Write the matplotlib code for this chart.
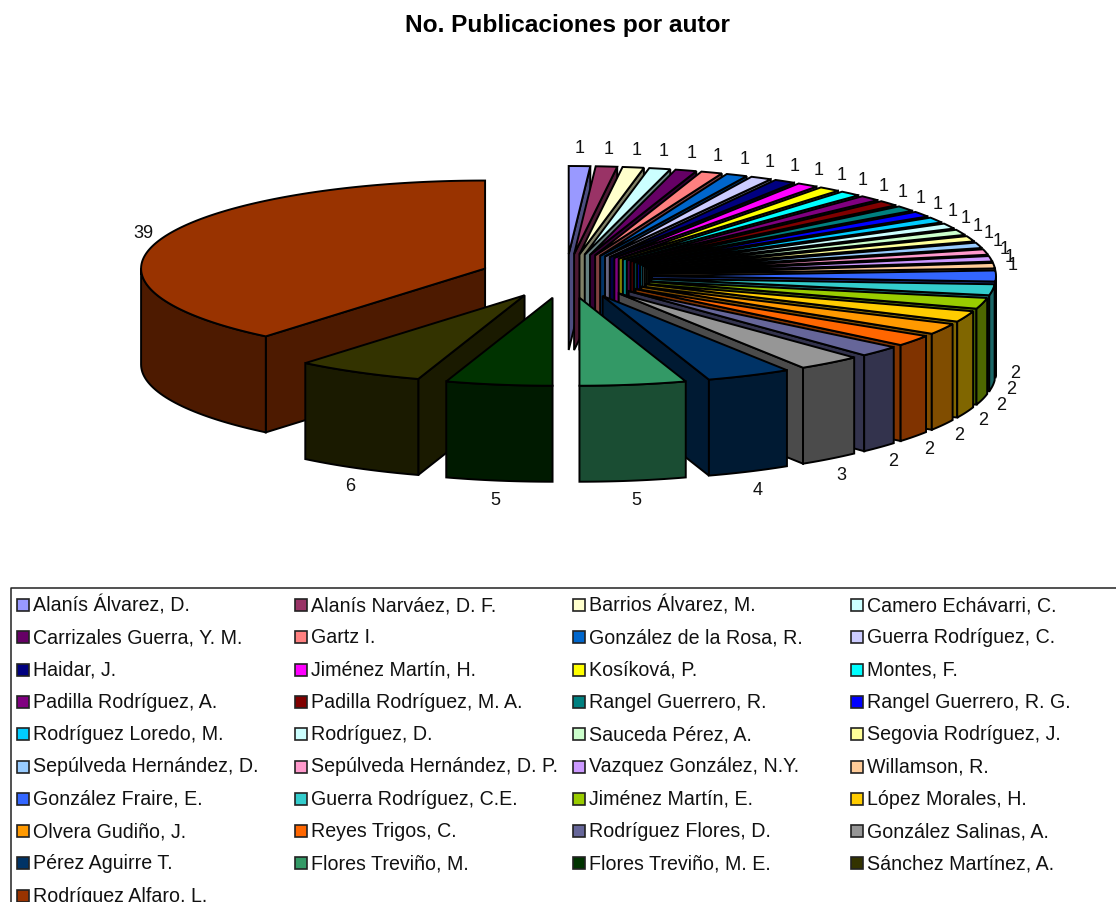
import numpy as np
import matplotlib
matplotlib.use('Agg')
import matplotlib.pyplot as plt
from matplotlib.patches import Polygon, Rectangle

plt.rcParams['font.family'] = ['Liberation Sans', 'DejaVu Sans']

autores = ['Alanís Álvarez, D.', 'Alanís Narváez, D. F.', 'Barrios Álvarez, M.', 'Camero Echávarri, C.',
           'Carrizales Guerra, Y. M.', 'Gartz I.', 'González de la Rosa, R.', 'Guerra Rodríguez, C.',
           'Haidar, J.', 'Jiménez Martín, H.', 'Kosíková, P.', 'Montes, F.',
           'Padilla Rodríguez, A.', 'Padilla Rodríguez, M. A.', 'Rangel Guerrero, R.', 'Rangel Guerrero, R. G.',
           'Rodríguez Loredo, M.', 'Rodríguez, D.', 'Sauceda Pérez, A.', 'Segovia Rodríguez, J.',
           'Sepúlveda Hernández, D.', 'Sepúlveda Hernández, D. P.', 'Vazquez González, N.Y.', 'Willamson, R.',
           'González Fraire, E.', 'Guerra Rodríguez, C.E.', 'Jiménez Martín, E.', 'López Morales, H.',
           'Olvera Gudiño, J.', 'Reyes Trigos, C.', 'Rodríguez Flores, D.', 'González Salinas, A.',
           'Pérez Aguirre T.', 'Flores Treviño, M.', 'Flores Treviño, M. E.', 'Sánchez Martínez, A.',
           'Rodríguez Alfaro, L.']
valores = [1, 1, 1, 1, 1, 1, 1, 1, 1, 1, 1, 1, 1, 1, 1, 1, 1, 1, 1, 1, 1, 1, 1, 1,
           2, 2, 2, 2, 2, 2, 2, 3, 4, 5, 5, 6, 39]
colores = ['#9999FF', '#993366', '#FFFFCC', '#CCFFFF', '#660066', '#FF8080', '#0066CC', '#CCCCFF',
           '#000080', '#FF00FF', '#FFFF00', '#00FFFF', '#800080', '#800000', '#008080', '#0000FF',
           '#00CCFF', '#CCFFFF', '#CCFFCC', '#FFFF99', '#99CCFF', '#FF99CC', '#CC99FF', '#FFCC99',
           '#3366FF', '#33CCCC', '#99CC00', '#FFCC00', '#FF9900', '#FF6600', '#666699', '#969696',
           '#003366', '#339966', '#003300', '#333300', '#993300']

# geometry of the tilted pie, in pixels
cx, cy = 566, 276
a, b = 344, 88
h = 96
explode = 0.25
lw = 1.4


def darker(c):
    r, g, bl = matplotlib.colors.to_rgb(c)
    return (r * 0.5, g * 0.5, bl * 0.5)


def punto(x0, y0, t):
    return x0 + a * np.sin(t), y0 - b * np.cos(t)


fig = plt.figure(figsize=(11.16, 9.02), dpi=100)
ax = fig.add_axes([0, 0, 1, 1])
ax.set_xlim(0, 1116)
ax.set_ylim(902, 0)
ax.axis('off')

ax.text(567, 32, 'No. Publicaciones por autor', ha='center', va='baseline',
        fontsize=17.6, fontweight='bold', color='black')

total = sum(valores)
fin = np.cumsum(valores) / total * 2 * np.pi
ini = fin - np.array(valores) / total * 2 * np.pi
mid = (ini + fin) / 2

# back slices first, the front ones paint over them
orden = np.argsort(-np.cos(mid))
z = 2
for i in orden:
    t0, t1 = ini[i], fin[i]
    x0 = cx + explode * a * np.sin(mid[i])
    y0 = cy - explode * b * np.cos(mid[i])
    top = colores[i]
    side = darker(top)

    # straight cut faces
    for t, visible in [(t0, np.sin(t0) < -1e-6), (t1, np.sin(t1) > 1e-6)]:
        if visible:
            ex, ey = punto(x0, y0, t)
            ax.add_patch(Polygon([(x0, y0), (ex, ey), (ex, ey + h), (x0, y0 + h)],
                                 fc=side, ec='black', lw=lw, zorder=z))
            z += 1

    # curved outer face, only the part turned to the viewer
    s0, s1 = max(t0, np.pi / 2), min(t1, 3 * np.pi / 2)
    if s1 > s0:
        ts = np.linspace(s0, s1, 40)
        xs, ys = punto(x0, y0, ts)
        pts = list(zip(xs, ys)) + list(zip(xs[::-1], ys[::-1] + h))
        ax.add_patch(Polygon(pts, fc=side, ec='black', lw=lw, zorder=z))
        z += 1

    # top face
    ts = np.linspace(t0, t1, max(4, int((t1 - t0) / 0.01)))
    xs, ys = punto(x0, y0, ts)
    ax.add_patch(Polygon([(x0, y0)] + list(zip(xs, ys)), fc=top, ec='black', lw=lw, zorder=z))
    z += 1

# value labels
for i, v in enumerate(valores):
    s, c = np.sin(mid[i]), np.cos(mid[i])
    x = cx + (1 + explode) * a * s + 19 * s
    y = cy - (1 + explode) * b * c - 19 * c
    if c < 1e-6:
        y += h
    ax.text(x, y + 6, str(v), ha='center', va='baseline', fontsize=13, color='#111111', zorder=500)

# legend box, runs off the right and bottom of the picture
ax.plot([1116, 11, 11], [588, 588, 902], color='#222222', lw=1.1, zorder=500)
cols = [17, 295, 573, 851]
for i, nombre in enumerate(autores):
    fila, col = divmod(i, 4)
    y = 605 + fila * 32.3
    ax.add_patch(Rectangle((cols[col], y - 6), 12, 12, fc=colores[i], ec='#222222', lw=1.2, zorder=500))
    ax.text(cols[col] + 16, y + 6, nombre, ha='left', va='baseline', fontsize=14.1,
            color='#111111', zorder=500)

fig.savefig('out.png', dpi=100)
